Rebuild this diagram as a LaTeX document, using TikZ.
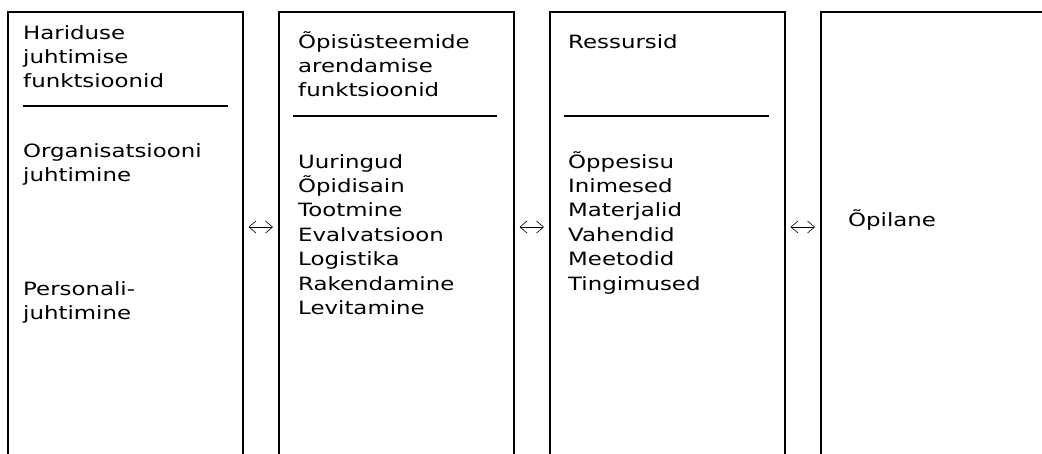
\documentclass[tikz,border=0pt]{standalone}
\usepackage{fontspec}
\setmainfont{DejaVu Sans}[FakeStretch=1.25]
\usetikzlibrary{arrows.meta,calc}
\begin{document}
\begin{tikzpicture}[x=1pt,y=-1pt,
  box/.style={draw=black,line width=1.5pt,minimum width=235pt,minimum height=520pt,anchor=north west,inner sep=0pt},
  txt/.style={anchor=base west,inner sep=0pt,align=left,font=\fontsize{18.3}{24.4}\selectfont},
  rule/.style={line width=1.5pt},
  dbl/.style={{Straight Barb[length=7pt,width=12pt]}-{Straight Barb[length=7pt,width=12pt]},line width=0.6pt,shorten <=5pt,shorten >=5pt}]
\useasboundingbox (0,0) rectangle (1042,453);
\clip (0,0) rectangle (1042,453);
\node[box] (b1) at (7,11) {};
\node[box] (b2) at (278,11) {};
\node[box] (b3) at (549,11) {};
\node[box] (b4) at (820,11) {};
\coordinate (ar) at (0,227);
\draw[dbl] (b1.east |- ar) -- (b2.west |- ar);
\draw[dbl] (b2.east |- ar) -- (b3.west |- ar);
\draw[dbl] (b3.east |- ar) -- (b4.west |- ar);
% box 1 (anchor = baseline of the last line)
\node[txt] (h1) at (23,87.8) {Hariduse\\juhtimise\\funktsioonid};
\coordinate (l1a) at (23,106);
\coordinate (l1b) at (228,106);
\draw[rule] (l1a) -- (l1b);
\node[txt] (o1) at (23,181.4) {Organisatsiooni\\juhtimine};
\node[txt] (p1) at (23,319.4) {Personali-\\juhtimine};
% box 2
\node[txt] (h2) at (298,96.8) {Õpisüsteemide\\arendamise\\funktsioonid};
\coordinate (l2a) at (293,116);
\coordinate (l2b) at (497,116);
\draw[rule] (l2a) -- (l2b);
\node[txt] (i2) at (298,314.4) {Uuringud\\Õpidisain\\Tootmine\\Evalvatsioon\\Logistika\\Rakendamine\\Levitamine};
% box 3
\node[txt] (h3) at (568,48) {Ressursid};
\coordinate (l3a) at (564,116);
\coordinate (l3b) at (769,116);
\draw[rule] (l3a) -- (l3b);
\node[txt] (i3) at (568,290) {Õppesisu\\Inimesed\\Materjalid\\Vahendid\\Meetodid\\Tingimused};
% box 4
\node[txt] (s4) at (848,226) {Õpilane};
\end{tikzpicture}
\end{document}
